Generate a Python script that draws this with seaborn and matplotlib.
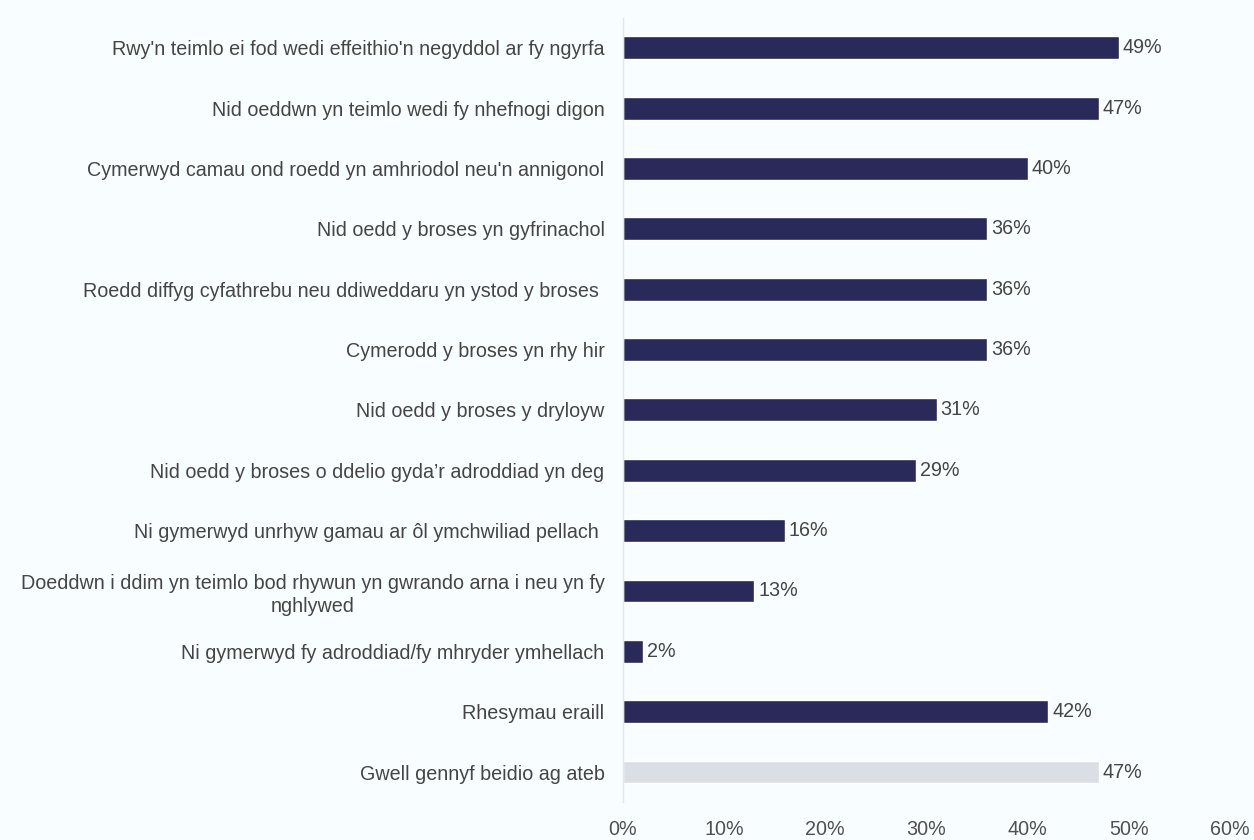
import matplotlib
matplotlib.use("Agg")
import matplotlib.pyplot as plt
import seaborn as sns
import pandas as pd

# Data
categories = [
    "Rwy'n teimlo ei fod wedi effeithio'n negyddol ar fy ngyrfa",
    "Nid oeddwn yn teimlo wedi fy nhefnogi digon",
    "Cymerwyd camau ond roedd yn amhriodol neu'n annigonol",
    "Nid oedd y broses yn gyfrinachol",
    "Roedd diffyg cyfathrebu neu ddiweddaru yn ystod y broses ",
    "Cymerodd y broses yn rhy hir",
    "Nid oedd y broses y dryloyw",
    "Nid oedd y broses o ddelio gyda\u2019r adroddiad yn deg",
    "Ni gymerwyd unrhyw gamau ar \u00f4l ymchwiliad pellach ",
    "Doeddwn i ddim yn teimlo bod rhywun yn gwrando arna i neu yn fy\nnghlywed",
    "Ni gymerwyd fy adroddiad/fy mhryder ymhellach",
    "Rhesymau eraill",
    "Gwell gennyf beidio ag ateb",
]
values = [49, 47, 40, 36, 36, 36, 31, 29, 16, 13, 2, 42, 47]
groups = ["main"] * 12 + ["no_answer"]
xticks = [0, 10, 20, 30, 40, 50, 60]

df = pd.DataFrame({"categoria": categories, "valor": values, "grupo": groups})

BG = "#f8fdff"
TXT = "#454545"
FS = 14.2
sns.set_theme(style="white")
plt.rcParams["font.family"] = ["Liberation Sans", "DejaVu Sans"]

fig = plt.figure(figsize=(12.54, 8.4), dpi=100, facecolor=BG)
ax = fig.add_axes([0.4965, 0.045, 0.4845, 0.934], facecolor=BG)

sns.barplot(
    data=df, x="valor", y="categoria", hue="grupo",
    palette={"main": "#29295a", "no_answer": "#d9dfe4"},
    width=0.38, saturation=1, legend=False, dodge=False, ax=ax,
)

# rótulos de percentagem na ponta das barras
for container in ax.containers:
    ax.bar_label(container, fmt="%d%%", padding=3, fontsize=FS, color=TXT)

ax.set_xlim(0, 60)
ax.set_xticks(xticks)
ax.set_xticklabels([f"{t}%" for t in xticks])
ax.tick_params(axis="x", length=0, pad=13, labelsize=FS, labelcolor="#505050")
ax.tick_params(axis="y", length=0, pad=13, labelsize=FS, labelcolor=TXT)
for lbl in ax.get_yticklabels():
    lbl.set_multialignment("center")
    lbl.set_linespacing(1.3)
ax.set_xlabel("")
ax.set_ylabel("")

for s in ["top", "right", "bottom"]:
    ax.spines[s].set_visible(False)
ax.spines["left"].set_color("#e3e6ea")
ax.spines["left"].set_linewidth(1)

fig.savefig("out.png", dpi=100, facecolor=BG)
